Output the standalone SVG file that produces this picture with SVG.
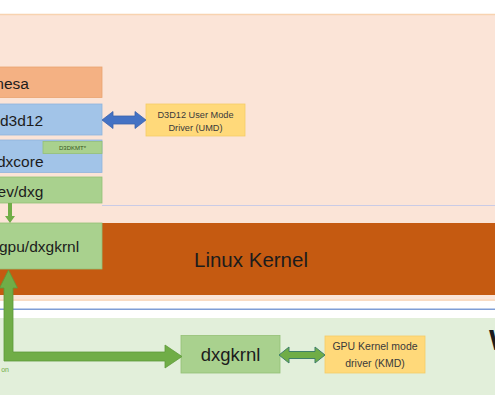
<svg xmlns="http://www.w3.org/2000/svg" width="495" height="400" viewBox="0 0 495 400">
<style>
text{font-family:"Liberation Sans",Arial,sans-serif;fill:#1c1c1c}
.big{font-size:15.5px}
.blue{fill:#A2C4E8;stroke:#8FB3DC;stroke-width:0.8}
.green{fill:#A9D18E;stroke:#94C075;stroke-width:0.8}
.yel{fill:#FFD97A;stroke:#F5CC66;stroke-width:0.8}
.small{font-size:9.2px;fill:#3a3a3a}
</style>
<rect x="0" y="0" width="495" height="400" fill="#FFFFFF"/>
<g id="user-layer">
<rect x="-2" y="14" width="499" height="287" fill="#FBE4D7"/>
<line x1="0" y1="14.5" x2="495" y2="14.5" stroke="#F8D3B0" stroke-width="1.5"/>
<line x1="102" y1="205.5" x2="495" y2="205.5" stroke="#C9CBE6" stroke-width="1"/>
<line x1="0" y1="300" x2="495" y2="300" stroke="#F8D3B0" stroke-width="1"/>
</g>
<g id="linux-kernel">
<rect x="-2" y="223" width="499" height="72" fill="#C55A11"/>
<text x="194" y="267" style="font-size:20.5px">Linux Kernel</text>
</g>
<line x1="0" y1="309.3" x2="495" y2="309.3" stroke="#7F9ED6" stroke-width="1.5"/>
<g id="windows-layer">
<rect x="-2" y="318" width="499" height="77" fill="#E2EFDA"/>
<text x="489" y="350" style="font-size:30px;font-weight:bold">W</text>
<text x="9" y="372" text-anchor="end" style="font-size:7px;fill:#70AD47">on</text>
</g>
<g id="mesa">
<rect x="-5" y="67" width="107" height="30.5" fill="#F4B183" stroke="#E9A470" stroke-width="0.8"/>
<text class="big" x="-9" y="89">mesa</text>
</g>
<g id="d3d12">
<rect x="-5" y="104" width="107" height="31" class="blue"/>
<text class="big" x="0" y="125.5">d3d12</text>
</g>
<g id="dxcore">
<rect x="-5" y="140" width="107" height="32.5" class="blue"/>
<text class="big" x="-3" y="167">dxcore</text>
</g>
<g id="d3dkmt">
<rect x="43" y="141.5" width="59" height="12" class="green"/>
<text x="72.5" y="150" text-anchor="middle" style="font-size:6px;fill:#375623">D3DKMT*</text>
</g>
<g id="dev-dxg">
<rect x="-5" y="177" width="107" height="26" class="green"/>
<text class="big" x="-11" y="196.5">dev/dxg</text>
</g>
<g id="gpu-dxgkrnl">
<rect x="-5" y="223" width="107" height="46" fill="#A9D18E" stroke="#94C075" stroke-width="0.8"/>
<text class="big" x="-1" y="252">gpu/dxgkrnl</text>
</g>
<g id="umd">
<rect x="146" y="104" width="99" height="32" class="yel"/>
<text class="small" x="195.5" y="118" text-anchor="middle">D3D12 User Mode</text>
<text class="small" x="195.5" y="131" text-anchor="middle">Driver (UMD)</text>
</g>
<g id="dxgkrnl">
<rect x="181" y="335.5" width="99" height="37.5" class="green"/>
<text x="230.5" y="360.5" text-anchor="middle" style="font-size:18.5px">dxgkrnl</text>
</g>
<g id="kmd">
<rect x="325" y="336" width="100" height="37" class="yel"/>
<text x="375" y="349.5" text-anchor="middle" style="font-size:10.5px;fill:#3a3a3a">GPU Kernel mode</text>
<text x="375" y="367" text-anchor="middle" style="font-size:10.5px;fill:#3a3a3a">driver (KMD)</text>
</g>
<g id="connectors">
<polygon points="8,203 12,203 12,216 15,216 10,223 5,216 8,216" fill="#70AD47"/>
<polygon points="8.5,270 17.5,288 13,288 13,352 165,352 165,345 182,356.5 165,368 165,361 4,361 4,288 -0.5,288" fill="#70AD47" stroke="#5E9A3A" stroke-width="0.8"/>
<polygon points="102,120 113,111.5 113,116 135,116 135,111.5 146,120 135,128.5 135,124 113,124 113,128.5" fill="#4472C4" stroke="#3A62AC" stroke-width="0.8"/>
<polygon points="279,355 289,347 289,351.5 315,351.5 315,347 325,355 315,363 315,358.5 289,358.5 289,363" fill="#70AD47" stroke="#3F7F6A" stroke-width="1"/>
</g>
</svg>
